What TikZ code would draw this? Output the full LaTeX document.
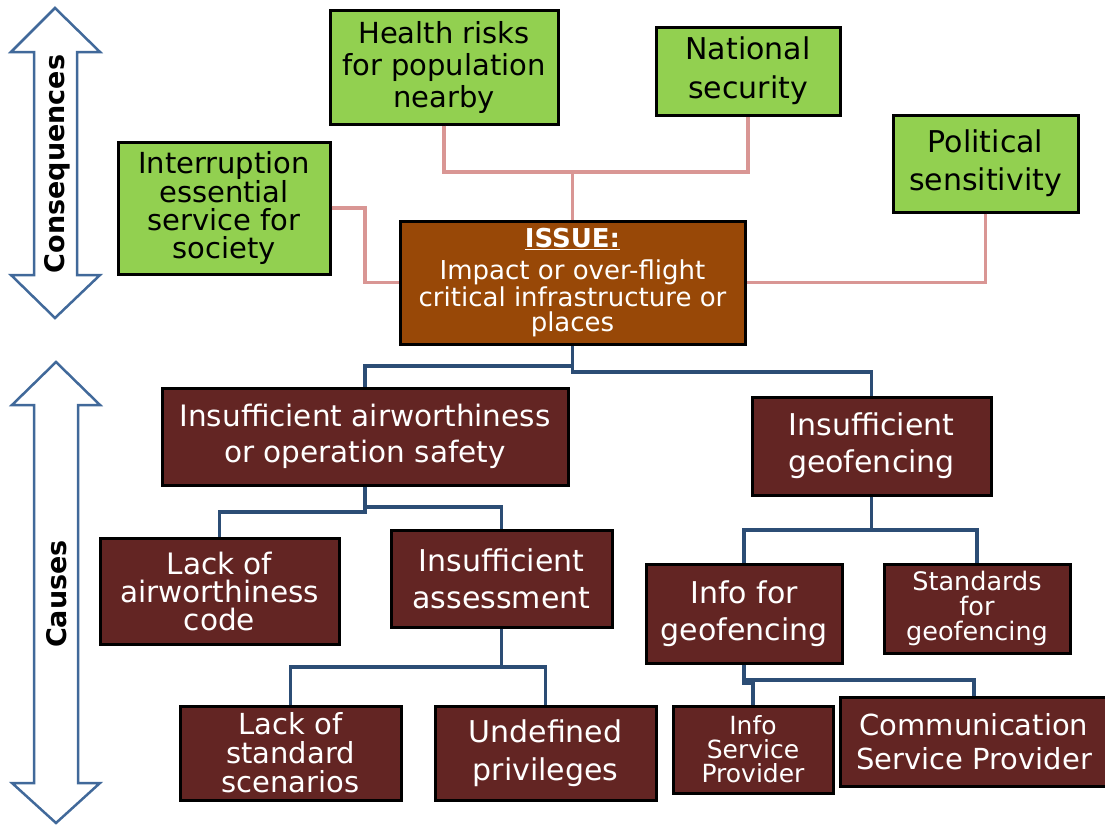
\documentclass[tikz,border=0pt]{standalone}
\usepackage{fontspec}
\setmainfont{DejaVu Sans}
\usetikzlibrary{positioning}
\definecolor{consgreen}{HTML}{92D050}
\definecolor{issuebrown}{HTML}{984807}
\definecolor{causered}{HTML}{632523}
\definecolor{conpink}{HTML}{D99694}
\definecolor{caublue}{HTML}{2C4D75}
\definecolor{arrowblue}{HTML}{41699A}
\newcommand{\fsz}[2]{\fontsize{#1}{#2}\selectfont}

\begin{document}
\begin{tikzpicture}[x=1pt, y=-1pt,
	cons/.style={draw=black, line width=3pt, fill=consgreen, align=center, inner sep=0pt},
	issue/.style={draw=black, line width=3pt, fill=issuebrown, text=white, align=center, inner sep=0pt},
	cause/.style={draw=black, line width=3pt, fill=causered, text=white, align=center, inner sep=0pt},
	conline/.style={draw=conpink, line width=3.8pt},
	cauline/.style={draw=caublue, line width=3.8pt},
	bigarrow/.style={draw=arrowblue, line width=2.5pt, fill=white}]
	\useasboundingbox (0,0) rectangle (1105,825);
	
	% Side arrows
	\draw[bigarrow] (55,8) -- (100,52) -- (77,52) -- (77,275) -- (100,275) -- (55,318)
	-- (11,275) -- (34,275) -- (34,52) -- (11,52) -- cycle;
	\draw[bigarrow] (56,362) -- (100,405) -- (78,405) -- (78,783) -- (100,783) -- (56,823)
	-- (12,783) -- (34,783) -- (34,405) -- (12,405) -- cycle;
	\node[rotate=90, font=\bfseries\fsz{27}{30}] (conslabel) at (57,164) {Consequences};
	\node[rotate=90, font=\bfseries\fsz{27}{30}] (causelabel) at (57,594) {Causes};
	
	% Consequences
	\node[cons, minimum width=228pt, minimum height=114pt, font=\fsz{29}{32}] (health) at (444,67) {Health risks\\for population\\nearby};
	\node[cons, minimum width=184pt, minimum height=88pt, font=\fsz{30}{39}] (national) at (748,71) {National\\security};
	\node[cons, minimum width=185pt, minimum height=97pt, font=\fsz{30}{38}] (political) at (985.5,163.5) {Political\\sensitivity};
	\node[cons, minimum width=212pt, minimum height=132pt, font=\fsz{29}{28}] (interr) at (224,208) {Interruption\\essential\\service for\\society};
	
	% Issue
	\node[issue, minimum width=345pt, minimum height=123pt, font=\fsz{26}{25}] (issue) at (572.5,282.5) {{\bfseries\underline{ISSUE:}}\\[7pt]Impact or over-flight\\critical infrastructure or\\places};
	
	% Causes
	\node[cause, minimum width=406pt, minimum height=97pt, font=\fsz{29.5}{36}] (airw) at (365,436.5) {Insufficient airworthiness\\or operation safety};
	\node[cause, minimum width=239pt, minimum height=98pt, font=\fsz{30}{37}] (geo) at (871.5,446) {Insufficient\\geofencing};
	\node[cause, minimum width=239pt, minimum height=106pt, font=\fsz{29.5}{28}] (lackcode) at (219.5,591) {Lack of\\airworthiness\\code};
	\node[cause, minimum width=221pt, minimum height=97pt, font=\fsz{30}{37}] (assess) at (501.5,578.5) {Insufficient\\assessment};
	\node[cause, minimum width=196pt, minimum height=99pt, font=\fsz{30}{37}] (info) at (744,613.5) {Info for\\geofencing};
	\node[cause, minimum width=186pt, minimum height=89pt, font=\fsz{25.5}{25}] (std) at (977,608.5) {Standards\\for\\geofencing};
	\node[cause, minimum width=221pt, minimum height=94pt, font=\fsz{29}{29}] (lackstd) at (290.5,753) {Lack of\\standard\\scenarios};
	\node[cause, minimum width=221pt, minimum height=94pt, font=\fsz{30}{38}] (undef) at (545.5,753) {Undefined\\privileges};
	\node[cause, minimum width=160pt, minimum height=87pt, font=\fsz{25}{24}] (isp) at (753,749.5) {Info\\Service\\Provider};
	\node[cause, minimum width=268pt, minimum height=89pt, font=\fsz{29}{34}] (comm) at (974,741.5) {Communication\\Service Provider};
	
	% Junctions
	\coordinate (cj) at (572.5,172);
	\coordinate (ij) at (365,208);
	\coordinate (bj1) at (572.5,366);
	\coordinate (bj2) at (572.5,372);
	\coordinate (aj1) at (365,507);
	\coordinate (aj2) at (365,512);
	\coordinate (sj) at (501.5,667);
	\coordinate (gj) at (871.5,530);
	\coordinate (fj) at (744,680);
	\coordinate (fk) at (744,683);
	
	% Consequence links
	\draw[conline] (health.south) |- (cj) -| (national.south);
	\draw[conline] (cj) -- (issue.north);
	\draw[conline] (interr.east) -- (ij) |- (issue.west);
	\draw[conline] (political.south) |- (issue.east);
	
	% Cause links
	\draw[cauline] (issue.south) -- (bj1) -| (airw.north);
	\draw[cauline] (bj1) -- (bj2) -| (geo.north);
	\draw[cauline] (airw.south) -- (aj1) -| (assess.north);
	\draw[cauline] (aj1) -- (aj2) -| (lackcode.north);
	\draw[cauline] (assess.south) -- (sj) -| (lackstd.north);
	\draw[cauline] (sj) -| (undef.north);
	\draw[cauline] (geo.south) -- (gj) -| (info.north);
	\draw[cauline] (gj) -| (std.north);
	\draw[cauline] (info.south) -- (fj) -| (comm.north);
	\draw[cauline] (fj) -- (fk) -| (isp.north);
\end{tikzpicture}
\end{document}
